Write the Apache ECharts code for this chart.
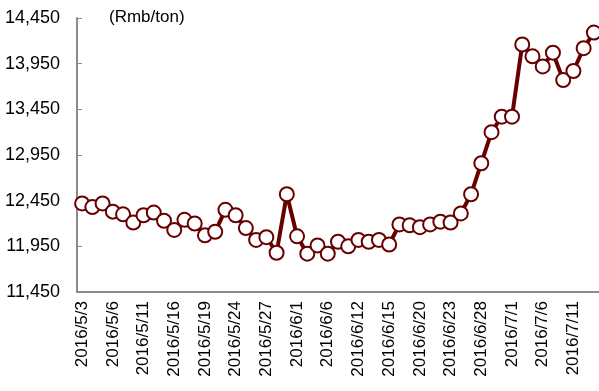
<!DOCTYPE html>
<html>
<head>
<meta charset="utf-8">
<script src="https://cdn.jsdelivr.net/npm/echarts@6/dist/echarts.min.js"></script>
<style>
  html, body { margin: 0; padding: 0; background: #fff; }
  #chart { width: 599px; height: 391px; }
</style>
</head>
<body>
<div id="chart"></div>
<script>
// Trading days, May–July 2016
const dates = [
  '2016/5/3','2016/5/4','2016/5/5','2016/5/6','2016/5/9','2016/5/10','2016/5/11','2016/5/12','2016/5/13',
  '2016/5/16','2016/5/17','2016/5/18','2016/5/19','2016/5/20','2016/5/23','2016/5/24','2016/5/25','2016/5/26',
  '2016/5/27','2016/5/30','2016/5/31','2016/6/1','2016/6/2','2016/6/3','2016/6/6','2016/6/7','2016/6/8',
  '2016/6/12','2016/6/13','2016/6/14','2016/6/15','2016/6/16','2016/6/17','2016/6/20','2016/6/21','2016/6/22',
  '2016/6/23','2016/6/24','2016/6/27','2016/6/28','2016/6/29','2016/6/30','2016/7/1','2016/7/4','2016/7/5',
  '2016/7/6','2016/7/7','2016/7/8','2016/7/11','2016/7/12','2016/7/13'
];

// Price, Rmb/ton
const prices = [
  12420, 12380, 12420, 12330, 12300, 12210, 12290, 12320, 12230,
  12130, 12240, 12200, 12070, 12110, 12350, 12290, 12150, 12020,
  12050, 11880, 12520, 12060, 11870, 11960, 11870, 12000, 11950,
  12020, 12000, 12020, 11970, 12190, 12180, 12160, 12190, 12220,
  12210, 12310, 12520, 12860, 13200, 13370, 13370, 14160, 14030,
  13920, 14070, 13770, 13870, 14120, 14290
];

const yMin = 11450;
const yMax = 14450;
const yStep = 500;
const unitLabel = '(Rmb/ton)';

const lineColor = '#680000';
const axisColor = '#8c8c8c';
const fontFamily = '"Liberation Sans", Arial, sans-serif';

const chart = echarts.init(document.getElementById('chart'), null, { renderer: 'canvas' });

chart.setOption({
  animation: false,
  backgroundColor: '#ffffff',
  grid: { left: 77, right: 0, top: 18, bottom: 99, containLabel: false },
  graphic: [{
    type: 'text',
    left: 109,
    top: 9,
    style: { text: unitLabel, fill: '#000', font: '17px ' + fontFamily }
  }],
  xAxis: {
    type: 'category',
    data: dates,
    boundaryGap: true,
    axisLine: { lineStyle: { color: axisColor, width: 2 } },
    axisTick: { inside: true, length: 4, interval: 0, lineStyle: { color: axisColor, width: 1 } },
    axisLabel: {
      interval: 2,
      rotate: 90,
      color: '#000',
      fontSize: 17,
      fontFamily: fontFamily,
      margin: 9
    },
    splitLine: { show: false }
  },
  yAxis: {
    type: 'value',
    min: yMin,
    max: yMax,
    interval: yStep,
    axisLine: { show: true, lineStyle: { color: axisColor, width: 2 } },
    axisTick: { show: true, inside: true, length: 5, lineStyle: { color: axisColor, width: 1 } },
    axisLabel: {
      color: '#000',
      fontSize: 18,
      fontFamily: fontFamily,
      margin: 17,
      formatter: v => v.toLocaleString('en-US')
    },
    splitLine: { show: false }
  },
  series: [{
    type: 'line',
    data: prices,
    symbol: 'circle',
    symbolSize: 14,
    showAllSymbol: true,
    lineStyle: { color: lineColor, width: 4 },
    itemStyle: { color: '#ffffff', borderColor: lineColor, borderWidth: 2 }
  }]
});
</script>
</body>
</html>
